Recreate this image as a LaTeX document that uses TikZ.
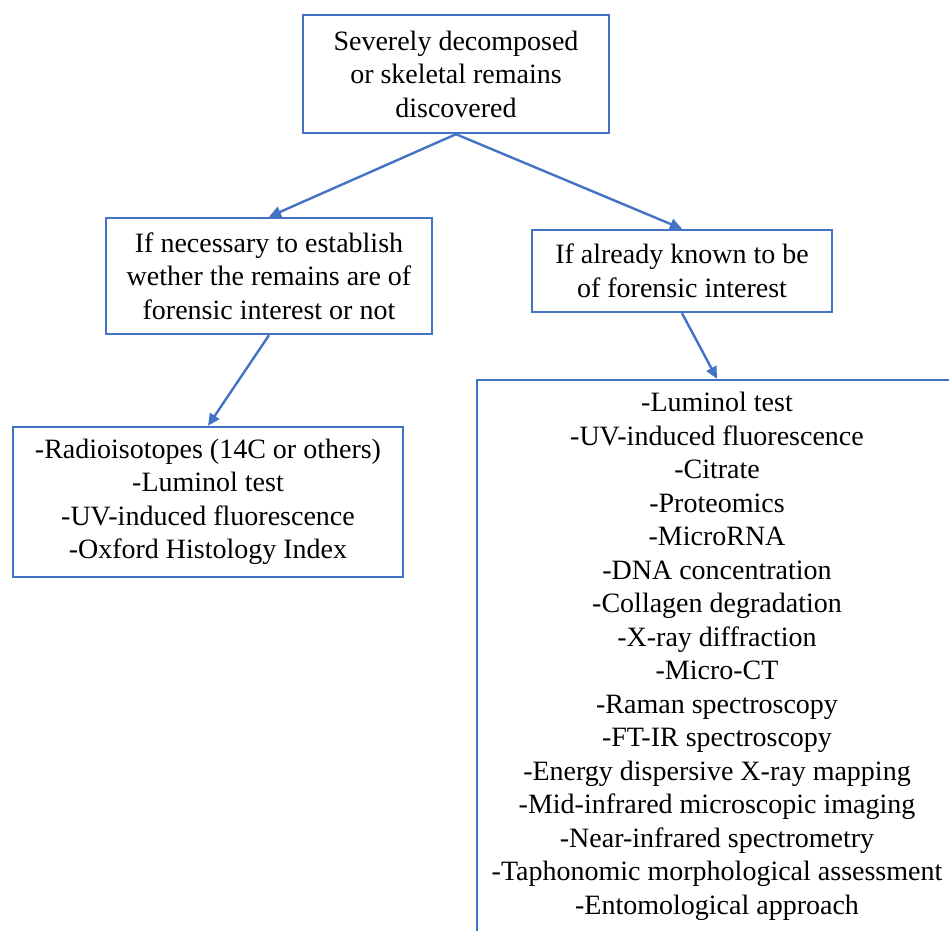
\documentclass[tikz,border=0pt]{standalone}
\usepackage{fontspec}
\setmainfont{Liberation Serif}
\newfontfamily\flowfont{Liberation Serif}
\usetikzlibrary{arrows.meta,positioning}
\definecolor{flowblue}{HTML}{4472C4}

\begin{document}
\begin{tikzpicture}[
    x=1pt,
    y=1pt,
    font=\flowfont\fontsize{28}{33.5}\selectfont,
    box/.style={rectangle, draw=flowblue, line width=2.4pt, align=center, fill=white, inner sep=0pt},
    link/.style={-{Triangle[length=12pt,width=11pt]}, line width=2.4pt, draw=flowblue}
  ]
    \useasboundingbox (0,0) rectangle (949,930);
    \clip (0,0) rectangle (949,930);

    \node[box, minimum width=306pt, minimum height=118pt] (remains) at (456,856) {Severely decomposed\\or skeletal remains\\discovered};
    \node[box, minimum width=326pt, minimum height=116pt] (necessary) at (269,654) {If necessary to establish\\wether the remains are of\\forensic interest or not};
    \node[box, minimum width=300pt, minimum height=82pt] (known) at (682,659) {If already known to be\\of forensic interest};
    \node[box, minimum width=390pt, minimum height=150pt] (tests) at (208,428) {-Radioisotopes (14C or others)\\-Luminol test\\-UV-induced fluorescence\\-Oxford Histology Index};
    \node[box, minimum width=480pt, minimum height=553pt] (methods) at (717,273.5) {-Luminol test\\-UV-induced fluorescence\\-Citrate\\-Proteomics\\-MicroRNA\\-DNA concentration\\-Collagen degradation\\-X-ray diffraction\\-Micro-CT\\-Raman spectroscopy\\-FT-IR spectroscopy\\-Energy dispersive X-ray mapping\\-Mid-infrared microscopic imaging\\-Near-infrared spectrometry\\-Taphonomic morphological assessment\\-Entomological approach};

    \draw[link] (remains.south) -- (necessary.north);
    \draw[link] (remains.south) -- (known.north);
    \draw[link] (necessary.south) -- (tests.north);
    \draw[link] (known.south) -- (methods.north);
  \end{tikzpicture}
\end{document}
